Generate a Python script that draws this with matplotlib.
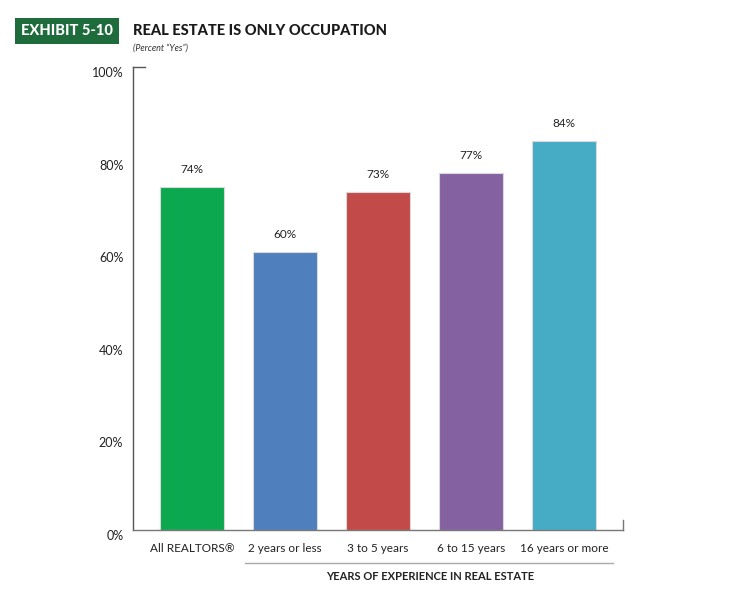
import numpy as np
import matplotlib.pyplot as plt

plt.rcParams['font.family'] = ['Lato', 'DejaVu Sans']

categories = ['All REALTORS®', '2 years or less', '3 to 5 years',
              '6 to 15 years', '16 years or more']
values = [74, 60, 73, 77, 84]
colors = ['#0BA84F', '#4F7FBD', '#C24B4A', '#8462A1', '#46ACC6']
yticks = [0, 20, 40, 60, 80, 100]
ytick_labels = ['0%', '20%', '40%', '60%', '80%', '100%']

fig = plt.figure(figsize=(7.34, 5.92), dpi=100)
ax = fig.add_axes([133 / 734, 1 - 530 / 592, 490 / 734, 463 / 592])

x = np.arange(len(categories))
ax.bar(x, values, width=0.69, color=colors, edgecolor='#d9d9d9',
       linewidth=0.8, zorder=2)
for xi, v in zip(x, values):
    ax.text(xi, v + 2.6, f'{v}%', ha='center', va='bottom',
            fontsize=8.5, color='#222222')

ax.set_xlim(-0.634, 4.634)
ax.set_ylim(0, 100)
ax.set_yticks(yticks)
ax.set_yticklabels(ytick_labels, fontsize=9, color='#222222')
ax.tick_params(axis='y', length=0, pad=7)
for lab in ax.get_yticklabels():
    lab.set_va('top')
ax.set_xticks(x)
ax.set_xticklabels(categories, fontsize=8.5, color='#222222')
ax.tick_params(axis='x', length=0, pad=9)

for side in ['top', 'right']:
    ax.spines[side].set_visible(False)
ax.spines['left'].set_color('#555555')
ax.spines['bottom'].set_color('#777777')
ax.spines['left'].set_linewidth(1.0)
ax.spines['bottom'].set_linewidth(1.0)

# small end ticks on the axes
ax.plot([0, 0.025], [1, 1], transform=ax.transAxes, color='#555555',
        lw=1.0, clip_on=False)
ax.plot([1, 1], [0, 0.022], transform=ax.transAxes, color='#777777',
        lw=1.0, clip_on=False)

# group bracket line and axis title
fig.add_artist(plt.Line2D([245 / 734, 613 / 734], [1 - 563 / 592, 1 - 563 / 592],
                          color='#aaaaaa', lw=1.0))
fig.text(430 / 734, 1 - 576 / 592, 'YEARS OF EXPERIENCE IN REAL ESTATE',
         ha='center', va='center', fontsize=8, fontweight='bold', color='#222222')

# header
fig.text(67 / 734, 1 - 31 / 592, 'EXHIBIT 5-10', ha='center', va='center',
         fontsize=10.5, fontweight='black', color='white',
         bbox=dict(boxstyle='square,pad=0.42', facecolor='#1E6B3C', edgecolor='none'))
fig.text(133 / 734, 1 - 31 / 592, 'REAL ESTATE IS ONLY OCCUPATION', ha='left',
         va='center', fontsize=10.5, fontweight='black', color='#1a1a1a')
fig.text(133 / 734, 1 - 48 / 592, '(Percent “Yes”)', ha='left', va='center',
         fontsize=6.5, style='italic', color='#333333')

fig.savefig('out.png', dpi=100)
